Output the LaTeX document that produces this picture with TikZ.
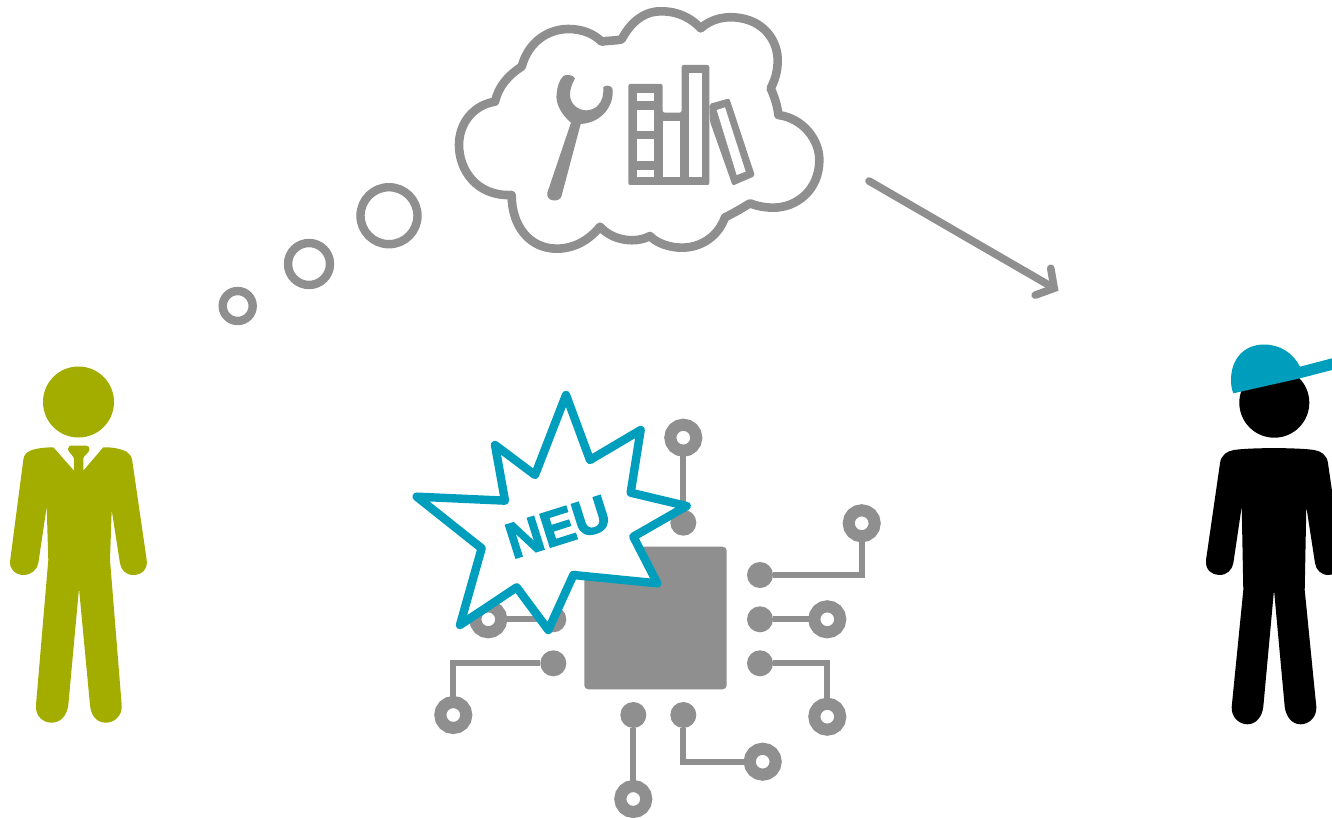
\documentclass[tikz,border=0pt]{standalone}
\usepackage{fontspec}
\setmainfont{Liberation Sans}
\newfontfamily\neufont{Liberation Sans}[BoldFeatures={FakeBold=3}]
\usetikzlibrary{arrows.meta}
\definecolor{gr}{HTML}{8F8F8F}
\definecolor{bl}{HTML}{009EBD}
\definecolor{ol}{HTML}{A3AD00}
\tikzset{
  bubble/.style={circle,draw=gr,line width=8.4pt,fill=white,inner sep=0pt,outer sep=0pt},
  pad/.style={circle,fill=gr,minimum size=26pt,inner sep=0pt,outer sep=0pt},
  ring/.style={circle,draw=gr,line width=12pt,fill=white,minimum size=26pt,inner sep=0pt,outer sep=0pt},
  trace/.style={draw=gr,line width=6pt},
}
\begin{document}
\begin{tikzpicture}[x=1pt,y=-1pt]
\useasboundingbox (0,0) rectangle (1332,818);
\clip (0,0) rectangle (1332,818);
% thought bubbles
\node[bubble,minimum size=57pt] (b3) at (389,215.7) {};
\node[bubble,minimum size=42pt] (b2) at (309,264) {};
\node[bubble,minimum size=30pt] (b1) at (237.7,306) {};
% cloud and icons
\begin{scope}[xshift=440pt,x=0.33333pt,y=-0.33333pt]
\draw[draw=gr,line width=8.6pt,line join=round,fill=white] (485,125) .. controls (500,122) and (530,122) .. (545,118)
 .. controls (575,60) and (620,32) .. (665,34)
 .. controls (715,34) and (755,55) .. (782,85)
 .. controls (815,55) and (860,47) .. (900,54)
 .. controls (980,67) and (1013,130) .. (1013,180)
 .. controls (1013,215) and (1005,240) .. (992,265)
 .. controls (1003,290) and (1012,315) .. (1015,345)
 .. controls (1090,355) and (1138,420) .. (1138,480)
 .. controls (1138,570) and (1070,623) .. (1000,623)
 .. controls (975,623) and (950,618) .. (930,610)
 .. controls (905,625) and (880,640) .. (855,652)
 .. controls (835,708) and (785,743) .. (725,743)
 .. controls (690,743) and (650,730) .. (630,708)
 .. controls (590,730) and (520,725) .. (480,680)
 .. controls (445,723) and (400,746) .. (350,746)
 .. controls (270,746) and (215,680) .. (215,585)
 .. controls (110,590) and (57,510) .. (57,435)
 .. controls (57,370) and (100,315) .. (165,305)
 .. controls (175,260) and (205,225) .. (245,200)
 .. controls (265,125) and (325,87) .. (385,87)
 .. controls (425,87) and (460,100) .. (485,125) -- cycle;
% wrench
\fill[gr] (322,578) -- (393,368) .. controls (365,345) and (345,310) .. (350,280)
 .. controls (352,260) and (358,240) .. (370,228) .. controls (378,222) and (400,225) .. (405,235)
 .. controls (385,270) and (385,300) .. (405,318) .. controls (425,335) and (450,335) .. (470,320)
 .. controls (490,300) and (490,285) .. (490,262) .. controls (495,255) and (510,255) .. (517,264)
 .. controls (525,310) and (490,368) .. (422,372) -- (364,590)
 .. controls (358,607) and (318,607) .. (322,578) -- cycle;
% books
\fill[gr,rounded corners=2pt] (565,252) -- (668,252) -- (668,338) -- (725,338) -- (725,195) -- (808,195) -- (808,555) -- (565,555) -- cycle;
\fill[gr,rounded corners=2pt] (808,312) -- (868,295) -- (945,528) -- (878,557) -- (810,365) -- cycle;
\fill[white] (590,278) rectangle (643,303);
\fill[white] (590,330) rectangle (643,393);
\fill[white] (590,418) rectangle (643,482);
\fill[white] (590,510) rectangle (643,532);
\fill[white] (668,362) rectangle (720,530);
\fill[white] (748,218) rectangle (785,530);
\fill[white] (830,330) -- (855,322) -- (917,515) -- (890,525) -- cycle;
\end{scope}
% arrow
\coordinate (arrowstart) at (869,181);
\coordinate (arrowend) at (1058.5,290.7);
\draw[draw=gr,line width=7.6pt,line cap=round,-{Straight Barb[length=13pt,width=31pt,line cap=round,line join=miter]}] (arrowstart) -- (arrowend);
% chip
\node[fill=gr,rounded corners=4pt,minimum width=142.4pt,minimum height=142.6pt,inner sep=0pt,outer sep=0pt] (chip) at (655.5,618) {};
\node[pad] (pt) at (683.3,522.7) {};
\node[ring] (rt) at (683.3,437.7) {};
\node[pad] (pr1) at (760,575) {};
\node[ring] (rr1) at (861.7,523.3) {};
\node[pad] (pr2) at (760,619.3) {};
\node[ring] (rr2) at (827.3,619.3) {};
\node[pad] (pr3) at (760,663.3) {};
\node[ring] (rr3) at (827.3,716.7) {};
\node[pad] (pb1) at (633.3,715) {};
\node[ring] (rb1) at (633.3,799) {};
\node[pad] (pb2) at (683.3,715) {};
\node[ring] (rb2) at (762.7,761.7) {};
\node[pad] (pl3) at (553.3,663.3) {};
\node[ring] (rl3) at (453.3,715) {};
\node[pad] (pl2) at (553.3,619.3) {};
\node[ring] (rl2) at (488.3,619.3) {};
\draw[trace] (pt) -- (rt);
\draw[trace] (pr1) -| (rr1);
\draw[trace] (pr2) -- (rr2);
\draw[trace] (pr3) -| (rr3);
\draw[trace] (pb1) -- (rb1);
\draw[trace] (pb2) |- (rb2);
\draw[trace] (pl3) -| (rl3);
\draw[trace] (pl2) -- (rl2);
% star
\begin{scope}[xshift=400pt,yshift=-380pt,x=0.33333pt,y=-0.33333pt]
\draw[draw=bl,line width=8.4pt,line join=round,fill=white] (498,45) -- (570,240) -- (722,150) -- (692,338) -- (860,378) -- (700,470) -- (772,610) -- (520,585) -- (445,750) -- (350,622) -- (180,735) -- (245,505) -- (50,350) -- (315,362) -- (285,195) -- (405,285) -- cycle;
\end{scope}
\node[text=bl,font=\neufont\fontsize{50}{50}\selectfont\bfseries,rotate=17.5,inner sep=0pt] (neu) at (558,527) {NEU};
% man
\node[circle,fill=ol,minimum size=71pt,inner sep=0pt] (manhead) at (78.5,402) {};
\fill[ol] (53.3,447.3) -- (74,470.7) -- (74,458.3) .. controls (72,454) and (68,452) .. (68,449)
 .. controls (68,446) and (70,445.5) .. (72,445.5) -- (85.5,445.5) .. controls (88,445.5) and (89.5,447) .. (89.5,449)
 .. controls (89.5,453) and (84,455) .. (83.3,458.3) -- (83.3,470.7) -- (103.3,447.3)
 .. controls (112,447) and (122,449) .. (127,452) .. controls (130,454) and (131.7,457) .. (132.3,461)
 -- (146.7,560) .. controls (148,570) and (141,575) .. (133.3,575) .. controls (126,575) and (121,570) .. (120,563.3)
 -- (111.7,510) -- (110,560) -- (121.7,705) .. controls (122.5,716) and (114,722.7) .. (106,722.7)
 .. controls (97,722.7) and (91,716) .. (90,705) -- (79,588.3) -- (68.3,705) .. controls (67,716) and (60,722.7) .. (51.7,722.7)
 .. controls (43,722.7) and (35,716) .. (36,705) -- (48.3,560) -- (46.7,506.7) -- (38.3,563.3)
 .. controls (37,570) and (31,575) .. (23.3,575) .. controls (15,575) and (9,568) .. (10,561.7)
 -- (23.3,460) .. controls (24,454) and (27,452) .. (32,450) .. controls (38,448) and (46,447.3) .. (53.3,447.3) -- cycle;
% boy
\node[circle,fill=black,minimum size=70pt,inner sep=0pt] (boyhead) at (1274.3,402.7) {};
\fill[black] (1220,463.3) .. controls (1221,455) and (1227,451) .. (1234,450) .. controls (1250,447.5) and (1298,447.5) .. (1314,450)
 .. controls (1321,451) and (1327,455) .. (1328,463.3) -- (1342,560) .. controls (1343,570) and (1336,575) .. (1328.7,575)
 .. controls (1321,575) and (1316,570) .. (1315,563) -- (1306.3,506.7) -- (1304.7,590) -- (1316.3,706.7)
 .. controls (1317,717) and (1309,724.3) .. (1300.7,724.3) .. controls (1292,724.3) and (1286,717) .. (1284.7,706.7)
 -- (1274,590) -- (1263.3,706.7) .. controls (1262,717) and (1256,724.3) .. (1247.3,724.3)
 .. controls (1239,724.3) and (1231,717) .. (1231.7,706.7) -- (1243.3,590) -- (1241.7,506.7) -- (1233.3,563.3)
 .. controls (1232,570) and (1227,575) .. (1219.3,575) .. controls (1212,575) and (1205,570) .. (1206,560) -- cycle;
\fill[bl] (1233.3,393.3) -- (1300,378.3) -- (1332,370) -- (1332,358.3) -- (1300,366.7)
 .. controls (1293,353) and (1280,344.5) .. (1264,344.5) .. controls (1245,344.5) and (1231,358) .. (1231,380) .. controls (1231,386) and (1232,390) .. (1233.3,393.3) -- cycle;
\end{tikzpicture}
\end{document}
